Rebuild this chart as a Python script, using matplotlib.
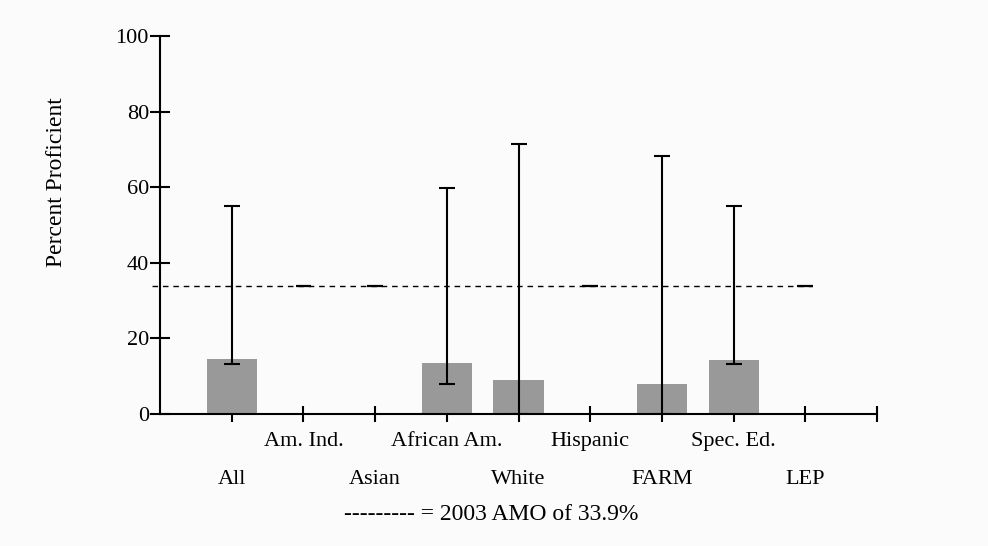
import numpy as np
import matplotlib
matplotlib.use('Agg')
import matplotlib.pyplot as plt

## Datos
categories = ['All', 'Am. Ind.', 'Asian', 'African Am.', 'White', 'Hispanic', 'FARM', 'Spec. Ed.', 'LEP']
values = [14.5, np.nan, np.nan, 13.4, 9.0, np.nan, 8.0, 14.4, np.nan]
err_low = [13.2, np.nan, np.nan, 7.9, 0.0, np.nan, 0.0, 13.2, np.nan]
err_high = [55.0, np.nan, np.nan, 59.8, 71.4, np.nan, 68.3, 55.0, np.nan]
amo = 33.9
y_ticks = [0, 20, 40, 60, 80, 100]

plt.rcParams['font.family'] = ['Liberation Serif', 'DejaVu Serif']
bg = '#fbfbfb'

fig = plt.figure(figsize=(9.88, 5.46), dpi=100, facecolor=bg)
ax = fig.add_axes([160/988, 1 - 414/546, 717/988, 378/546], facecolor=bg)

x = np.arange(1, len(categories) + 1)
vals = np.array(values)
lo = np.array(err_low)
hi = np.array(err_high)
has = ~np.isnan(vals)

## Barras
ax.bar(x[has], vals[has], width=0.7, color='#999999', zorder=2)

## Barras de error (del minimo al maximo)
ax.errorbar(x[has], (lo[has] + hi[has]) / 2, yerr=(hi[has] - lo[has]) / 2, fmt='none',
            ecolor='black', elinewidth=1.5, capsize=6, capthick=1.5, zorder=3)

## Linea del AMO y marcas cortas en los subgrupos sin datos
ax.plot([-0.11, 9.09], [amo, amo], color='black', lw=1, ls=(0, (4, 3.5)), clip_on=False, zorder=1)
ax.hlines([amo] * int((~has).sum()), x[~has] - 0.11, x[~has] + 0.11, color='black', lw=1.6, zorder=2)

ax.set_xlim(0, 10)
ax.set_ylim(0, 100)
for s in ['top', 'right']:
    ax.spines[s].set_visible(False)
for s in ['left', 'bottom']:
    ax.spines[s].set_linewidth(1.5)

ax.set_yticks(y_ticks)
ax.set_yticklabels([str(t) for t in y_ticks], fontsize=16)
ax.tick_params(axis='y', direction='inout', length=14, width=1.5, pad=1)

## Etiquetas del eje x en dos filas alternadas
ax.set_xticks(list(x) + [10])
ax.set_xticklabels([''] * (len(x) + 1))
ax.tick_params(axis='x', direction='inout', length=12, width=1.5)
trans = ax.get_xaxis_transform()
for i, c in enumerate(categories):
    ypos = -0.172 if i % 2 == 0 else -0.074
    ax.text(x[i], ypos, c, transform=trans, ha='center', va='center', fontsize=16)

fig.text(57/988, 1 - 182/546, 'Percent Proficient', rotation=90, ha='center', va='center', fontsize=17)
fig.text(491/988, 1 - 515/546, '--------- = 2003 AMO of 33.9%', ha='center', va='center', fontsize=17)

fig.savefig('out.png', dpi=100, facecolor=bg)
